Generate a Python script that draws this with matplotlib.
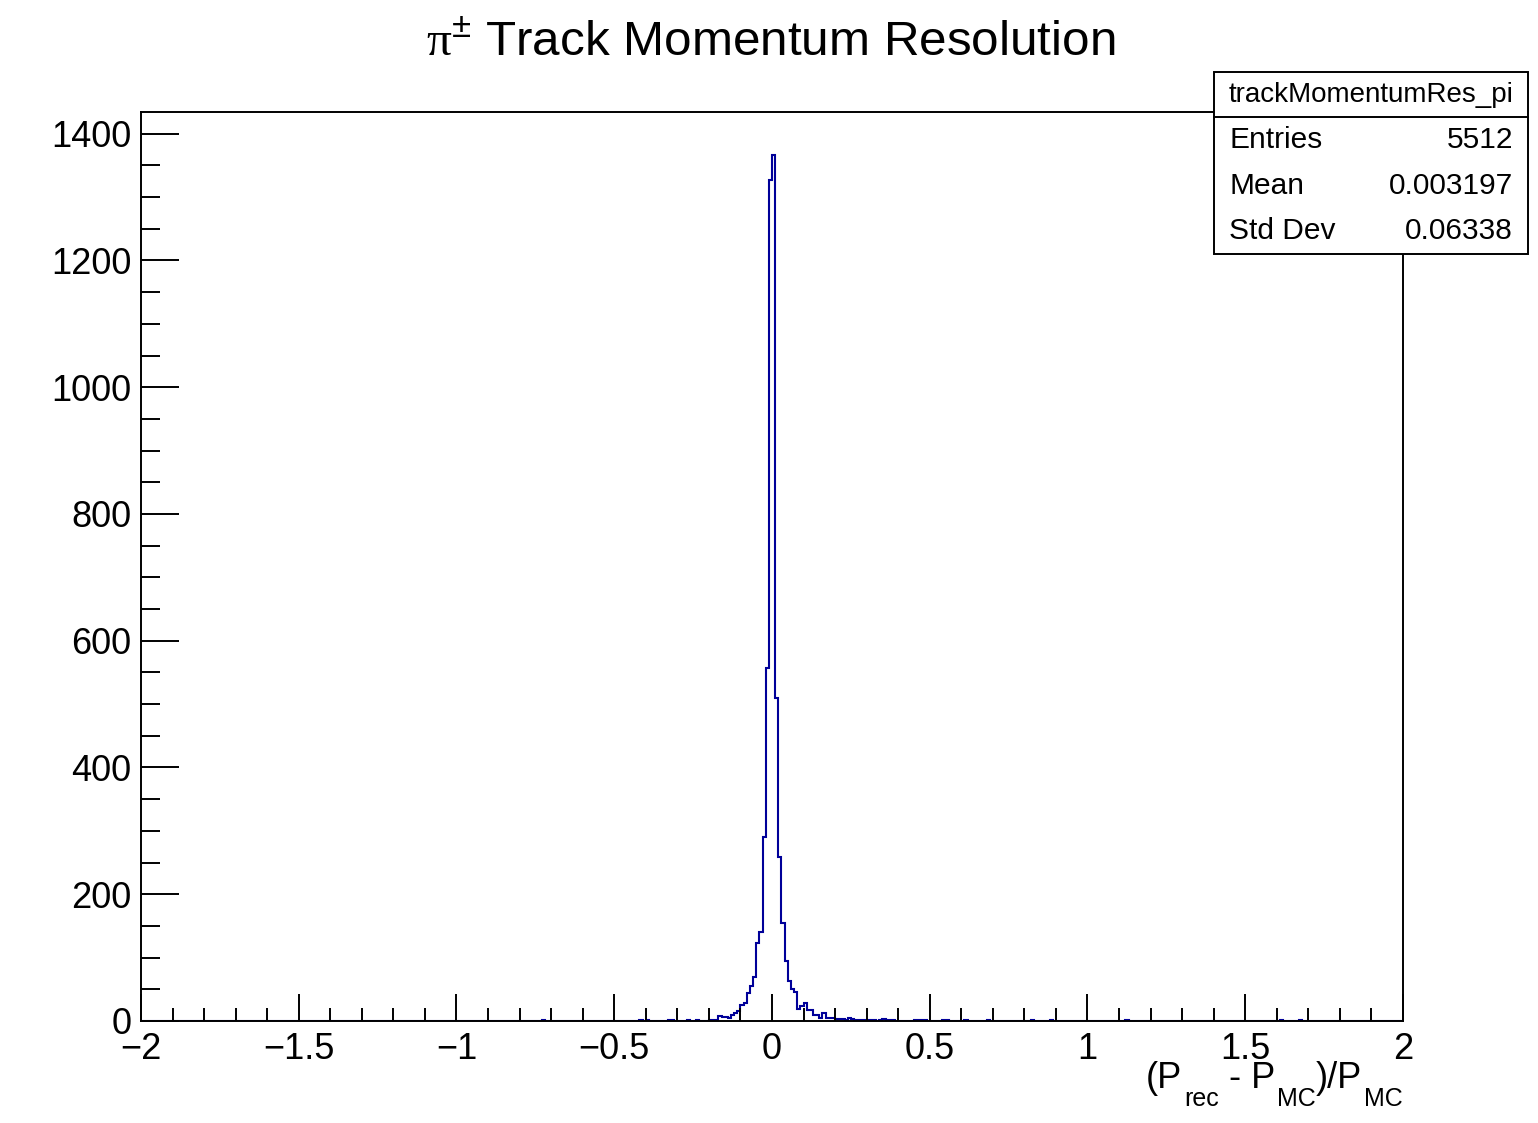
import numpy as np
import matplotlib

matplotlib.use("Agg")
import matplotlib.pyplot as plt
from matplotlib.patches import Rectangle
from matplotlib.lines import Line2D

plt.rcParams["font.family"] = ["Liberation Sans", "DejaVu Sans"]
plt.rcParams["mathtext.fontset"] = "custom"
plt.rcParams["mathtext.rm"] = "Liberation Sans"
plt.rcParams["mathtext.it"] = "Liberation Sans:italic"
plt.rcParams["mathtext.bf"] = "Liberation Serif"  # used for the upright Times-like pi
plt.rcParams["axes.unicode_minus"] = True

# histogram binning (400 bins from -2 to 2)
x_min, x_max, n_bins = -2.0, 2.0, 400

# lower edges of the filled bins and their contents
bin_left = [
    -0.73, -0.42, -0.40, -0.33, -0.32, -0.27, -0.24, -0.20, -0.19, -0.18,
    -0.17, -0.16, -0.15, -0.14, -0.13, -0.12, -0.11, -0.10, -0.09, -0.08,
    -0.07, -0.06, -0.05, -0.04, -0.03, -0.02, -0.01,
    0.00, 0.01, 0.02, 0.03, 0.04, 0.05, 0.06, 0.07, 0.08, 0.09,
    0.10, 0.11, 0.12, 0.13, 0.14, 0.15, 0.16, 0.17, 0.18, 0.19,
    0.20, 0.21, 0.22, 0.23, 0.24, 0.25, 0.26, 0.27, 0.28, 0.29,
    0.30, 0.31, 0.32, 0.34, 0.35, 0.36, 0.37, 0.38, 0.45, 0.46,
    0.47, 0.48, 0.54, 0.55, 0.61, 0.68, 0.82, 0.88, 1.12, 1.61, 1.67,
]
bin_counts = [
    1, 1, 1, 1, 1, 2, 2, 1, 1, 1,
    8, 7, 6, 4, 9, 13, 15, 26, 29, 44,
    55, 70, 123, 141, 290, 557, 1327,
    1366, 510, 258, 154, 95, 63, 50, 45, 19, 23,
    28, 18, 17, 10, 10, 5, 12, 4, 4, 4,
    3, 3, 3, 1, 5, 3, 2, 2, 1, 1,
    1, 1, 1, 1, 3, 1, 1, 1, 2, 1,
    1, 1, 1, 1, 1, 1, 1, 1, 1, 1, 1,
]

hist_name = "trackMomentumRes_pi"
stat_labels = ["Entries", "Mean", "Std Dev"]
stat_values = ["5512", "0.003197", "0.06338"]

# x title in ROOT style: (text, is_subscript)
xtitle_parts = [("(P", False), ("rec", True), (" - P", False), ("MC", True),
                (")/P", False), ("MC", True)]

edges = np.linspace(x_min, x_max, n_bins + 1)
counts = np.zeros(n_bins)
for left, c in zip(bin_left, bin_counts):
    counts[int(round((left - x_min) / (x_max - x_min) * n_bins))] = c

W, H = 1538, 1123
fig = plt.figure(figsize=(W / 100, H / 100), dpi=100)
ax = fig.add_axes([141 / W, 1 - 1021 / H, (1403 - 141) / W, (1021 - 112) / H])

ax.stairs(counts, edges, color="#000099", linewidth=1.5)
ax.set_xlim(x_min, x_max)
ax.set_ylim(0, counts.max() * 1.05)

ax.set_xticks(np.arange(-2, 2.01, 0.5))
ax.set_xticks(np.arange(-2, 2.01, 0.1), minor=True)
ax.set_yticks(np.arange(0, 1401, 200))
ax.set_yticks(np.arange(0, 1401, 50), minor=True)
ax.set_xticklabels(["\u22122", "\u22121.5", "\u22121", "\u22120.5", "0", "0.5", "1", "1.5", "2"])

for side in ax.spines.values():
    side.set_linewidth(1.4)
ax.tick_params(axis="both", which="both", direction="in", width=1.4, labelsize=26,
               top=False, right=False)
ax.tick_params(axis="y", which="major", length=27.5, pad=7)
ax.tick_params(axis="y", which="minor", length=13.8)
ax.tick_params(axis="x", which="major", length=19.4, pad=8)
ax.tick_params(axis="x", which="minor", length=9.7)

fig.text(771 / W, 1 - 55 / H, r"$\mathbf{\pi}^{\pm}$ Track Momentum Resolution",
         ha="center", va="baseline", fontsize=35.6)

# x title, laid out piece by piece from the right edge of the frame
renderer = fig.canvas.get_renderer()
x_right = 1403
base_y = 1088
sub_drop = 18
for text, is_sub in reversed(xtitle_parts):
    size = 18 if is_sub else 26
    y = base_y + (sub_drop if is_sub else 0)
    t = fig.text(x_right / W, 1 - y / H, text, ha="right", va="baseline", fontsize=size)
    x_right -= t.get_window_extent(renderer).width + (2 if is_sub else 0)

# stats box
bx0, bx1, by_top, by_line, by_bot = 1214, 1528, 72, 117, 254
fig.patches.append(Rectangle((bx0 / W, 1 - by_bot / H), (bx1 - bx0) / W, (by_bot - by_top) / H,
                             transform=fig.transFigure, facecolor="white", edgecolor="black",
                             linewidth=1.4, zorder=5))
fig.lines.append(Line2D([bx0 / W, bx1 / W], [1 - by_line / H, 1 - by_line / H],
                        transform=fig.transFigure, color="black", linewidth=1.4, zorder=6))
fig.text((bx0 + bx1) / 2 / W, 1 - 95 / H, hist_name, ha="center", va="center",
         fontsize=20, zorder=7)
row_y = [140, 186, 231]
for label, value, y in zip(stat_labels, stat_values, row_y):
    fig.text(1229 / W, 1 - y / H, label, ha="left", va="center", fontsize=21.5, zorder=7)
    fig.text(1513 / W, 1 - y / H, value, ha="right", va="center", fontsize=21.5, zorder=7)

fig.savefig("out.png", dpi=100)
